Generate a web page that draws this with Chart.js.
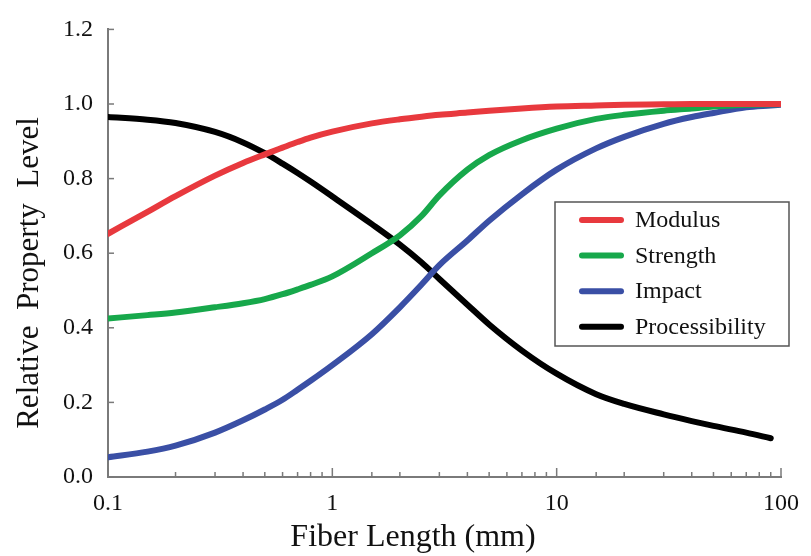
<!DOCTYPE html>
<html>
<head>
<meta charset="utf-8">
<script src="https://cdn.jsdelivr.net/npm/chart.js@4.4.1/dist/chart.umd.min.js"></script>
<style>
  html, body { margin: 0; padding: 0; background: #fff; }
</style>
</head>
<body>
<canvas id="fiber-chart" width="811" height="556"></canvas>
<script>
// fiber length (mm) on a log axis
const fiberLength = [0.1, 0.15, 0.2, 0.3, 0.4, 0.5, 0.6, 0.7, 0.8, 1, 1.5, 2, 2.5, 3, 4, 5, 7, 10, 15, 20, 30, 40, 50, 70, 90, 100];

const modulus = [0.652, 0.711, 0.753, 0.808, 0.842, 0.865, 0.883, 0.898, 0.910, 0.926, 0.948, 0.959, 0.966, 0.971, 0.977, 0.982, 0.988, 0.993, 0.996, 0.998, 0.999, 1.0, 1.0, 1.0, 1.0, 1.0];
const strength = [0.425, 0.434, 0.441, 0.455, 0.466, 0.477, 0.490, 0.503, 0.515, 0.538, 0.600, 0.648, 0.700, 0.755, 0.824, 0.863, 0.903, 0.934, 0.960, 0.971, 0.982, 0.988, 0.993, 0.998, 0.999, 1.0];
const impact = [0.053, 0.068, 0.084, 0.119, 0.152, 0.181, 0.207, 0.234, 0.258, 0.300, 0.383, 0.455, 0.516, 0.568, 0.634, 0.687, 0.758, 0.824, 0.881, 0.912, 0.947, 0.965, 0.976, 0.991, 0.996, 0.998];
const processibility = [0.965, 0.958, 0.949, 0.925, 0.897, 0.868, 0.840, 0.815, 0.792, 0.752, 0.678, 0.623, 0.575, 0.531, 0.462, 0.409, 0.339, 0.277, 0.222, 0.196, 0.168, 0.150, 0.137, 0.119, 0.104, null];

const xTickLabels = [0.1, 1, 10, 100];
const yTickStep = 0.2;

const seriesNames = ["Modulus", "Strength", "Impact", "Processibility"];
const seriesColors = ["#e8393e", "#17a84b", "#3a4fa5", "#000000"];
const axisColor = "#7a7a7a";
const serif = "'Liberation Serif', 'Times New Roman', serif";

Chart.defaults.font.family = serif;
Chart.defaults.color = "#111";

let isDecade = v => Math.abs(Math.log10(v) - Math.round(Math.log10(v))) < 1e-6;

let toPoints = values => fiberLength.map((x, i) => ({ x: x, y: values[i] }));

// inward tick marks, drawn at the scale's own tick positions
const insideTicks = {
  id: "insideTicks",
  afterDraw(chart) {
    let { ctx, scales: { x, y } } = chart;
    ctx.save();
    ctx.strokeStyle = axisColor;
    ctx.lineWidth = 1.5;
    x.ticks.forEach(t => {
      let px = x.getPixelForValue(t.value);
      let len = isDecade(t.value) ? 9 : 5;
      ctx.beginPath();
      ctx.moveTo(px, y.bottom);
      ctx.lineTo(px, y.bottom - len);
      ctx.stroke();
    });
    y.ticks.forEach(t => {
      let py = y.getPixelForValue(t.value);
      ctx.beginPath();
      ctx.moveTo(x.left, py);
      ctx.lineTo(x.left + 6, py);
      ctx.stroke();
    });
    ctx.restore();
  }
};

// axis titles, centred on the figure like the original
const axisTitles = {
  id: "axisTitles",
  afterDraw(chart) {
    let ctx = chart.ctx;
    ctx.save();
    ctx.fillStyle = "#111";
    ctx.textAlign = "center";
    ctx.textBaseline = "middle";
    ctx.font = "32px " + serif;
    ctx.fillText("Fiber Length (mm)", 413, 538);
    ctx.translate(30, 273);
    ctx.rotate(-Math.PI / 2);
    ctx.font = "31px " + serif;
    ctx.fillText("Relative  Property  Level", 0, 0);
    ctx.restore();
  }
};

// boxed legend inside the plot area
const boxLegend = {
  id: "boxLegend",
  afterDraw(chart) {
    let ctx = chart.ctx;
    let box = { left: 555, top: 202, width: 234, height: 144 };
    ctx.save();
    ctx.strokeStyle = "#555";
    ctx.lineWidth = 1.5;
    ctx.strokeRect(box.left, box.top, box.width, box.height);
    ctx.font = "24px " + serif;
    ctx.textBaseline = "middle";
    ctx.textAlign = "left";
    chart.data.datasets.forEach((ds, i) => {
      let cy = box.top + 18 + i * 35.6;
      ctx.strokeStyle = ds.borderColor;
      ctx.lineWidth = 6;
      ctx.lineCap = "round";
      ctx.beginPath();
      ctx.moveTo(box.left + 27, cy);
      ctx.lineTo(box.left + 66, cy);
      ctx.stroke();
      ctx.fillStyle = "#111";
      ctx.fillText(ds.label, box.left + 80, cy + 1);
    });
    ctx.restore();
  }
};

const allValues = [modulus, strength, impact, processibility];

const ctx = document.getElementById("fiber-chart").getContext("2d");
const fiberChart = new Chart(ctx, {
  type: "line",
  data: {
    datasets: allValues.map((values, i) => ({
      label: seriesNames[i],
      data: toPoints(values),
      borderColor: seriesColors[i],
      backgroundColor: seriesColors[i],
      borderWidth: 6,
      borderCapStyle: "round",
      borderJoinStyle: "round",
      pointRadius: 0,
      cubicInterpolationMode: "monotone",
      fill: false
    }))
  },
  options: {
    responsive: false,
    animation: false,
    layout: { padding: { top: 21, right: 19, left: 0, bottom: 0 } },
    plugins: {
      legend: { display: false },
      tooltip: { enabled: false }
    },
    scales: {
      x: {
        type: "logarithmic",
        min: 0.1,
        max: 100,
        grid: { display: false, drawTicks: false },
        border: { color: axisColor, width: 2 },
        ticks: {
          autoSkip: false,
          maxRotation: 0,
          padding: 12,
          font: { size: 24 },
          color: "#111",
          callback: value => xTickLabels.some(v => Math.abs(v - value) < 1e-9 * Math.max(1, v)) ? String(value) : ""
        },
        afterFit: scale => { scale.height = 79; }
      },
      y: {
        min: 0,
        max: 1.2,
        grid: { display: false, drawTicks: false },
        border: { color: axisColor, width: 2 },
        ticks: {
          stepSize: yTickStep,
          padding: 15,
          font: { size: 24 },
          color: "#111",
          callback: value => Number(value).toFixed(1)
        },
        afterFit: scale => { scale.width = 108; }
      }
    }
  },
  plugins: [insideTicks, axisTitles, boxLegend]
});
</script>
</body>
</html>
